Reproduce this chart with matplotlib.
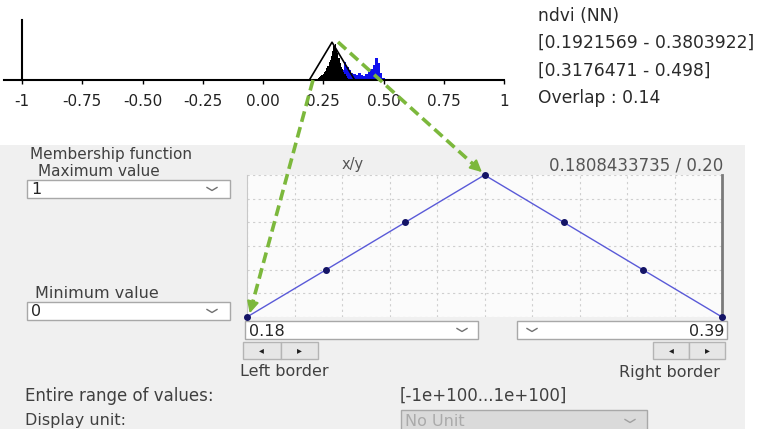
import numpy as np
import matplotlib
matplotlib.use('Agg')
import matplotlib.pyplot as plt
from matplotlib.patches import Rectangle

# ---------- dados ----------
# histograma (ndvi) - classe 1 (preto) e classe 2 (azul)
classe1_faixa = [0.1921569, 0.3803922]
classe2_faixa = [0.3176471, 0.498]
sobreposicao = 0.14

preto_x = [0.225, 0.23, 0.235, 0.24, 0.245, 0.25, 0.255, 0.26, 0.265, 0.27, 0.275, 0.28, 0.285,
           0.29, 0.295, 0.30, 0.305, 0.31, 0.315, 0.32, 0.325, 0.33, 0.335, 0.34, 0.345, 0.35]
preto_h = [0.02, 0.03, 0.05, 0.06, 0.08, 0.10, 0.13, 0.15, 0.20, 0.24, 0.30, 0.34, 0.40,
           0.48, 0.56, 0.60, 0.52, 0.45, 0.36, 0.28, 0.22, 0.18, 0.14, 0.10, 0.06, 0.03]

azul_x = [0.30, 0.31, 0.32, 0.33, 0.34, 0.35, 0.36, 0.37, 0.38, 0.39, 0.40,
          0.41, 0.42, 0.43, 0.44, 0.45, 0.46, 0.47, 0.48, 0.49, 0.50]
azul_h = [0.08, 0.12, 0.20, 0.16, 0.30, 0.22, 0.17, 0.12, 0.10, 0.08, 0.11,
          0.09, 0.07, 0.10, 0.14, 0.18, 0.25, 0.37, 0.28, 0.12, 0.04]

ticks_hist = [-1, -0.75, -0.5, -0.25, 0, 0.25, 0.5, 0.75, 1]
labels_hist = ['-1', '-0.75', '-0.50', '-0.25', '0.00', '0.25', '0.50', '0.75', '1']

# funcao de pertinencia (triangulo)
mf_x = [0.18, 0.215, 0.25, 0.285, 0.32, 0.355, 0.39]
mf_y = [0, 0.333, 0.667, 1, 0.667, 0.333, 0]
borda_esq = '0.18'
borda_dir = '0.39'

W, H = 759, 429
fig = plt.figure(figsize=(W / 100, H / 100), dpi=100)
fig.patch.set_facecolor('white')


def px_axes(x0, y0, x1, y1, z=1):
    # cria eixos a partir de coordenadas em pixels (origem no canto superior esquerdo)
    return fig.add_axes([x0 / W, 1 - y1 / H, (x1 - x0) / W, (y1 - y0) / H], zorder=z)


# ---------- fundo / painel ----------
bg = px_axes(0, 0, W, H, z=0)
bg.set_xlim(0, W)
bg.set_ylim(H, 0)
bg.axis('off')
bg.add_patch(Rectangle((0, 145), 745, 290, facecolor='#f0f0f0', edgecolor='none'))

txt = '#404040'
fs = 11.5


def chevron(ax, cx, cy, cor='#707070'):
    ax.plot([cx - 5, cx, cx + 5], [cy - 1.5, cy + 1.5, cy - 1.5], color=cor, lw=1)


def combo(ax, x0, y0, x1, y1, texto, lado='left', chev=None, fundo='white', cor_txt='#262626'):
    ax.add_patch(Rectangle((x0, y0), x1 - x0, y1 - y0, facecolor=fundo, edgecolor='#a8a8a8', lw=1))
    cy = (y0 + y1) / 2
    if lado == 'left':
        ax.text(x0 + 4, cy + 1, texto, ha='left', va='center', fontsize=fs, color=cor_txt)
    else:
        ax.text(x1 - 3, cy + 1, texto, ha='right', va='center', fontsize=fs, color=cor_txt)
    if chev is not None:
        chevron(ax, chev, cy, '#a0a0a0' if fundo != 'white' else '#707070')


def botoes(ax, x0, x1, y0, y1):
    xm = (x0 + x1) / 2
    for a, b, s in [(x0, xm, '\u25c2'), (xm, x1, '\u25b8')]:
        ax.add_patch(Rectangle((a, y0), b - a, y1 - y0, facecolor='#e6e6e6', edgecolor='#b4b4b4', lw=1))
        ax.text((a + b) / 2, (y0 + y1) / 2, s, ha='center', va='center', fontsize=7, color='#202020')


bg.text(30, 154, 'Membership function', ha='left', va='center', fontsize=fs - 0.5, color=txt)
bg.text(38, 171, 'Maximum value', ha='left', va='center', fontsize=fs - 0.5, color=txt)
combo(bg, 27, 180, 230, 198, '1', chev=212)
bg.text(35, 293, 'Minimum value', ha='left', va='center', fontsize=fs, color=txt)
combo(bg, 27, 302, 230, 320, '0', chev=212)

bg.text(353, 165, 'x/y', ha='center', va='center', fontsize=fs - 1, color='#555555')
bg.text(723, 165, '0.1808433735 / 0.20', ha='right', va='center', fontsize=fs + 0.5, color='#555555')

combo(bg, 245, 321, 478, 339, borda_esq, 'left', chev=462)
combo(bg, 517, 321, 727, 339, borda_dir, 'right', chev=532)
botoes(bg, 243, 318, 342, 359)
botoes(bg, 653, 725, 342, 359)
bg.text(240, 371, 'Left border', ha='left', va='center', fontsize=fs, color=txt)
bg.text(720, 373, 'Right border', ha='right', va='center', fontsize=fs, color=txt)

bg.text(25, 396, 'Entire range of values:', ha='left', va='center', fontsize=fs + 0.5, color=txt)
bg.text(400, 396, '[-1e+100...1e+100]', ha='left', va='center', fontsize=fs + 0.5, color=txt)
bg.text(25, 420, 'Display unit:', ha='left', va='center', fontsize=fs, color=txt)
combo(bg, 401, 410, 647, 432, 'No Unit', 'left', chev=630, fundo='#dadada', cor_txt='#aaaaaa')

# textos do topo direito
info = ['ndvi (NN)',
        '[%s - %s]' % (classe1_faixa[0], classe1_faixa[1]),
        '[%s - %s]' % (classe2_faixa[0], classe2_faixa[1]),
        'Overlap : %.2f' % sobreposicao]
for yy, s in zip([16, 43, 71, 98], info):
    bg.text(538, yy, s, ha='left', va='center', fontsize=12.3, color='#2a2a2a')

# ---------- histograma ----------
ah = px_axes(4, 20, 504, 80, z=2)
ah.set_xlim(-1.075, 1.0)
ah.set_ylim(0, 1)
ah.patch.set_alpha(0)
for s in ['top', 'right']:
    ah.spines[s].set_visible(False)
ah.spines['left'].set_position(('data', -1))
ah.spines['left'].set_linewidth(1.5)
ah.spines['bottom'].set_linewidth(1.5)
ah.set_yticks([])
ah.set_xticks(ticks_hist)
ah.set_xticklabels(labels_hist, fontsize=11, color='#222222')
ah.tick_params(axis='x', length=3, width=1, pad=7)

ah.bar(azul_x, azul_h, width=0.0105, color='#1010ee', linewidth=0)
ah.bar(preto_x, preto_h, width=0.0055, color='black', linewidth=0)
meio = (classe1_faixa[0] + classe1_faixa[1]) / 2
ah.plot([classe1_faixa[0], meio, classe1_faixa[1]], [0, 0.63, 0], color='black', lw=1.2)

# ---------- funcao de pertinencia ----------
am = px_axes(247, 175, 722, 317, z=2)
am.set_xlim(mf_x[0], mf_x[-1])
am.set_ylim(0, 1)
am.set_facecolor('#fbfbfb')
am.set_xticks(np.linspace(mf_x[0], mf_x[-1], 11))
am.set_yticks(np.linspace(0, 1, 7))
am.tick_params(length=0, labelbottom=False, labelleft=False)
am.grid(True, color='#cfcfcf', linestyle=(0, (2, 3)), lw=0.8)
am.spines['top'].set_visible(False)
am.spines['bottom'].set_visible(False)
am.spines['left'].set_color('#c8c8c8')
am.spines['right'].set_color('#7a7a7a')
am.spines['right'].set_linewidth(2)
am.plot(mf_x, mf_y, color='#5a5ad8', lw=1, marker='o', ms=4,
        mfc='#141466', mec='#141466', clip_on=False, zorder=3)

# ---------- setas verdes tracejadas ----------
ov = px_axes(0, 0, W, H, z=5)
ov.set_xlim(0, W)
ov.set_ylim(H, 0)
ov.axis('off')
verde = '#7cb83c'
for (x0, y0), (x1, y1) in [((313, 80), (249, 316)), ((338, 42), (484, 174))]:
    d = np.hypot(x1 - x0, y1 - y0)
    ux, uy = (x1 - x0) / d, (y1 - y0) / d
    ov.plot([x0, x1 - 8 * ux], [y0, y1 - 8 * uy], color=verde, lw=2.6, linestyle=(0, (3, 1.5)))
    ov.annotate('', xy=(x1, y1), xytext=(x1 - 10 * ux, y1 - 10 * uy),
                arrowprops=dict(arrowstyle='-|>,head_length=0.7,head_width=0.35',
                                color=verde, lw=1.5))

fig.savefig('out.png', dpi=100)
